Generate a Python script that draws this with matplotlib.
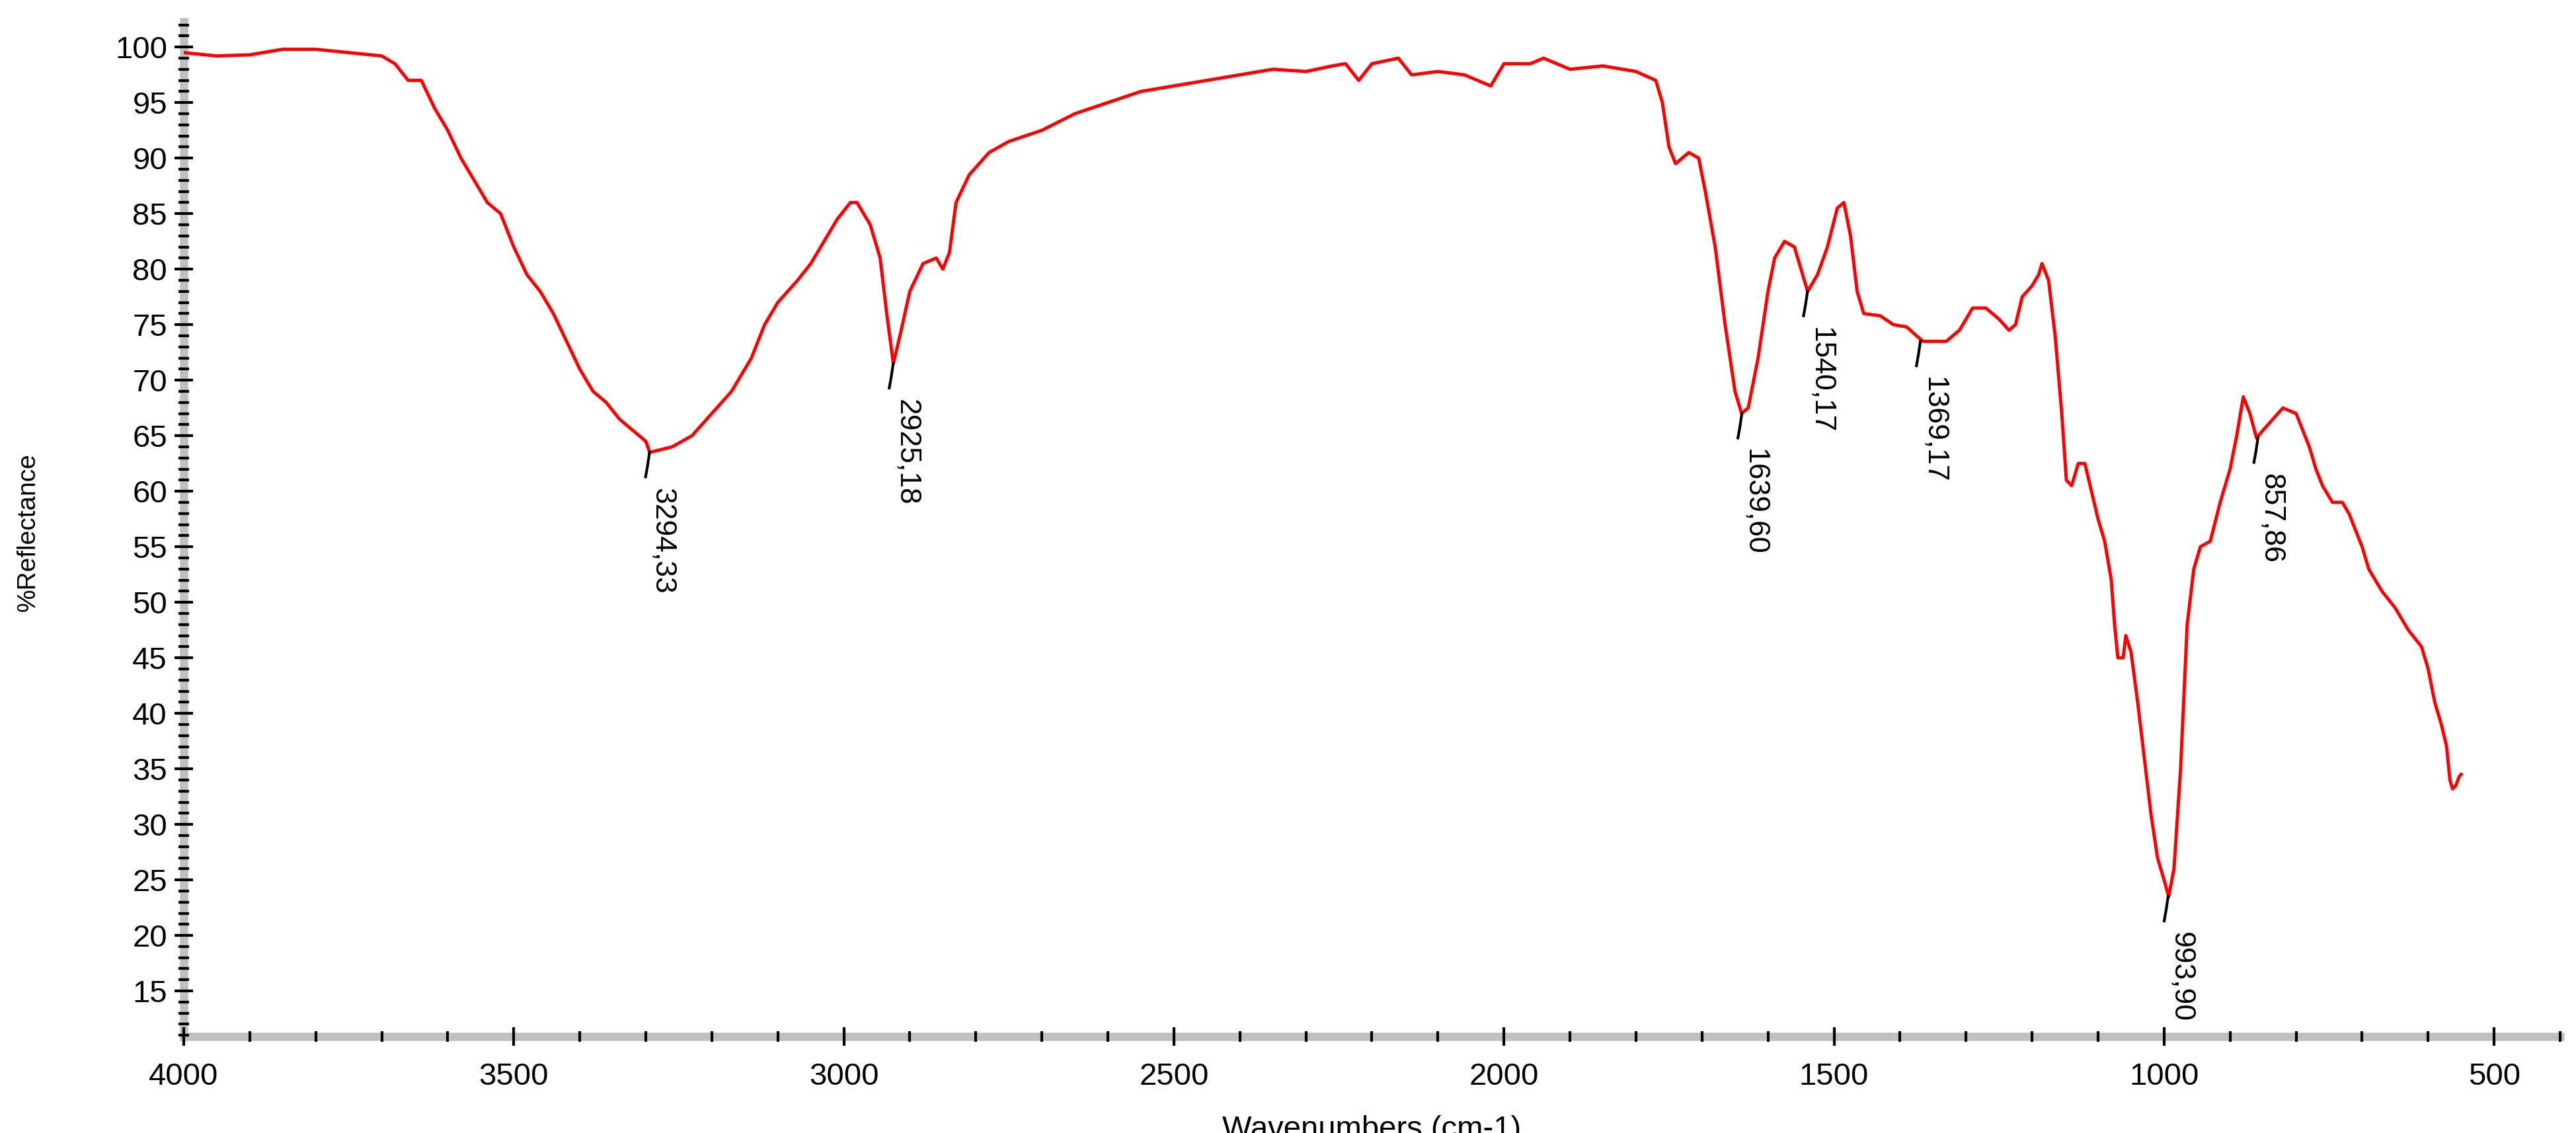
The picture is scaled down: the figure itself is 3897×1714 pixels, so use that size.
import numpy as np
import matplotlib
matplotlib.use('Agg')
import matplotlib.pyplot as plt

plt.rcParams['font.family'] = ['Liberation Sans', 'DejaVu Sans']

# spectrum
wavenumber = [4000, 3950, 3900, 3850, 3800, 3750, 3700, 3680, 3660, 3640, 3620, 3600,
              3580, 3560, 3540, 3520, 3500, 3480, 3460, 3440, 3420, 3400, 3380, 3360,
              3340, 3320, 3300, 3294, 3260, 3230, 3200, 3170, 3140, 3120, 3100, 3070,
              3050, 3030, 3010, 2990, 2980, 2960, 2945, 2935, 2925, 2915, 2900, 2880,
              2860, 2850, 2840, 2830, 2810, 2780, 2750, 2700, 2650, 2600, 2550, 2500,
              2450, 2400, 2350, 2300, 2260, 2240, 2220, 2200, 2160, 2140, 2100, 2060,
              2020, 2000, 1960, 1940, 1900, 1850, 1800, 1770, 1760, 1750, 1740, 1720,
              1705, 1695, 1680, 1665, 1650, 1640, 1630, 1615, 1600, 1590, 1575, 1560,
              1545, 1540, 1525, 1510, 1495, 1485, 1475, 1465, 1455, 1430, 1410, 1390,
              1375, 1365, 1350, 1330, 1310, 1290, 1270, 1250, 1235, 1225, 1215, 1200,
              1190, 1185, 1175, 1165, 1155, 1148, 1140, 1130, 1120, 1110, 1100, 1090,
              1080, 1075, 1070, 1062, 1058, 1050, 1040, 1030, 1020, 1010, 1000, 993,
              985, 975, 965, 955, 945, 930, 915, 900, 890, 880, 870, 860, 850, 835,
              820, 800, 790, 780, 770, 760, 745, 730, 720, 700, 690, 670, 650, 630,
              610, 600, 590, 580, 572, 567, 563, 558, 553, 550]
reflectance = [99.5, 99.2, 99.3, 99.8, 99.8, 99.5, 99.2, 98.5, 97, 97, 94.5, 92.5,
               90, 88, 86, 85, 82, 79.5, 78, 76, 73.5, 71, 69, 68,
               66.5, 65.5, 64.5, 63.5, 64, 65, 67, 69, 72, 75, 77, 79,
               80.5, 82.5, 84.5, 86, 86, 84, 81, 76, 71.5, 74, 78, 80.5,
               81, 80, 81.5, 86, 88.5, 90.5, 91.5, 92.5, 94, 95, 96, 96.5,
               97, 97.5, 98, 97.8, 98.3, 98.5, 97, 98.5, 99, 97.5, 97.8, 97.5,
               96.5, 98.5, 98.5, 99, 98, 98.3, 97.8, 97, 95, 91, 89.5, 90.5,
               90, 87, 82, 75, 69, 67, 67.5, 72, 78, 81, 82.5, 82,
               79, 78, 79.5, 82, 85.5, 86, 83, 78, 76, 75.8, 75, 74.8,
               74, 73.5, 73.5, 73.5, 74.5, 76.5, 76.5, 75.5, 74.5, 75, 77.5, 78.5,
               79.5, 80.5, 79, 74, 67, 61, 60.5, 62.5, 62.5, 60, 57.5, 55.5,
               52, 48, 45, 45, 47, 45.5, 41, 36, 31, 27, 25, 23.5,
               26, 35, 48, 53, 55, 55.5, 59, 62, 65, 68.5, 67, 64.8, 65.5, 66.5,
               67.5, 67, 65.5, 64, 62, 60.5, 59, 59, 58, 55, 53, 51, 49.5, 47.5,
               46, 44, 41, 39, 37, 34, 33.2, 33.5, 34.3, 34.5]

peak_pos = [3294.33, 2925.18, 1639.60, 1540.17, 1369.17, 993.90, 857.86]
peak_val = [63.5, 71.5, 67, 78, 73.5, 23.5, 64.8]
peak_text = ['3294,33', '2925,18', '1639,60', '1540,17', '1369,17', '993,90', '857,86']

fig = plt.figure(figsize=(38.98, 17.14), dpi=100)
ax = fig.add_axes([0.0713, 0.0852, 0.9223, 0.8958])

ax.plot(wavenumber, reflectance, color='red', lw=3.6, zorder=3)

for p, v, t in zip(peak_pos, peak_val, peak_text):
    ax.plot([p, p + 3, p + 6], [v, v - 1.2, v - 2.2], color='black', lw=3, zorder=3)
    ax.text(p - 20, v - 3.2, t, rotation=270, ha='center', va='top', fontsize=32)

ax.set_xlim(4000, 400)
ax.set_ylim(10.9, 102.3)
ax.set_xticks([4000, 3500, 3000, 2500, 2000, 1500, 1000, 500])
ax.set_xticks(np.arange(4000, 399, -100), minor=True)
ax.set_yticks(np.arange(15, 101, 5))
ax.set_yticks(np.arange(11, 103, 1), minor=True)

for s in ['top', 'right']:
    ax.spines[s].set_visible(False)
for s in ['left', 'bottom']:
    ax.spines[s].set_color('#c0c0c0')
    ax.spines[s].set_linewidth(9)
    ax.spines[s].set_zorder(0.5)

ax.tick_params(which='major', direction='inout', length=20, width=3, labelsize=34)
ax.tick_params(axis='x', which='major', pad=18)
ax.tick_params(axis='y', which='major', pad=8)
ax.tick_params(which='minor', direction='inout', length=11, width=3)

ax.set_xlabel('Wavenumbers (cm-1)', fontsize=34, labelpad=26)
fig.text(0.011, 0.53, '%Reflectance', rotation=90, fontsize=28, ha='center', va='center')

fig.savefig('out.png', dpi=100)
